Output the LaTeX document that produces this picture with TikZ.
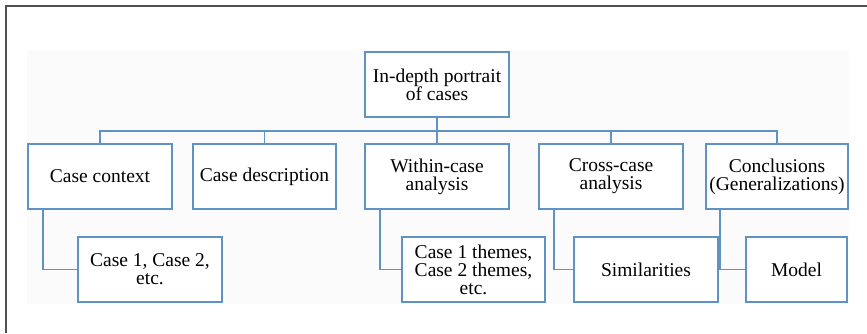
\documentclass[tikz,border=0pt]{standalone}
\usepackage{fontspec}
\setmainfont{Liberation Serif}
\definecolor{linec}{RGB}{96,146,196}
\definecolor{framec}{RGB}{80,80,80}
\begin{document}
\begin{tikzpicture}[x=1pt,y=-1pt,
  box/.style={draw=linec,line width=1.6pt,fill=white,inner sep=0pt,align=center,
    font=\fontsize{19.5}{18}\selectfont},
  conn/.style={draw=linec,line width=1.6pt}]
\useasboundingbox (0,0) rectangle (867,333);
\fill[white] (0,0) rectangle (867,333);
\fill[black!1.5] (27,50) rectangle (849,304);
\draw[framec,line width=2.2pt] (6,333) -- (6,6) -- (867,6);
% root
\node[box,minimum width=144pt,minimum height=65pt] (root) at (437,84.5) {In-depth portrait\\of cases};
% level 1
\node[box,minimum width=144pt,minimum height=65pt] (c1) at (100,176.5) {Case context};
\node[box,minimum width=143pt,minimum height=65pt] (c2) at (264.5,176.5) {Case description};
\node[box,minimum width=144pt,minimum height=65pt] (c3) at (437,176.5) {Within-case\\analysis};
\node[box,minimum width=144pt,minimum height=65pt] (c4) at (611,176.5) {Cross-case\\analysis};
\node[box,minimum width=142pt,minimum height=65pt] (c5) at (777,176.5) {Conclusions\\(Generalizations)};
% level 2
\node[box,minimum width=144pt,minimum height=65pt] (d1) at (150,269.5) {Case 1, Case 2,\\etc.};
\node[box,minimum width=143pt,minimum height=65pt] (d3) at (473.5,269.5) {Case 1 themes,\\Case 2 themes,\\etc.};
\node[box,minimum width=144pt,minimum height=65pt] (d4) at (646,269.5) {Similarities};
\node[box,minimum width=101pt,minimum height=65pt] (d5) at (796.5,269.5) {Model};
% bus
\coordinate (bus) at (437,131);
\draw[conn] (root.south) -- (bus);
\draw[conn] (c1.north) |- (bus) -| (c5.north);
\draw[conn] (c2.north) -- (c2.north |- bus);
\draw[conn] (bus) -- (c3.north);
\draw[conn] (c4.north) -- (c4.north |- bus);
% elbows
\draw[conn] ([xshift=-57pt]c1.south) |- (d1.west);
\draw[conn] ([xshift=-57pt]c3.south) |- (d3.west);
\draw[conn] ([xshift=-57pt]c4.south) |- (d4.west);
\draw[conn] ([xshift=-57pt]c5.south) |- (d5.west);
\end{tikzpicture}
\end{document}
